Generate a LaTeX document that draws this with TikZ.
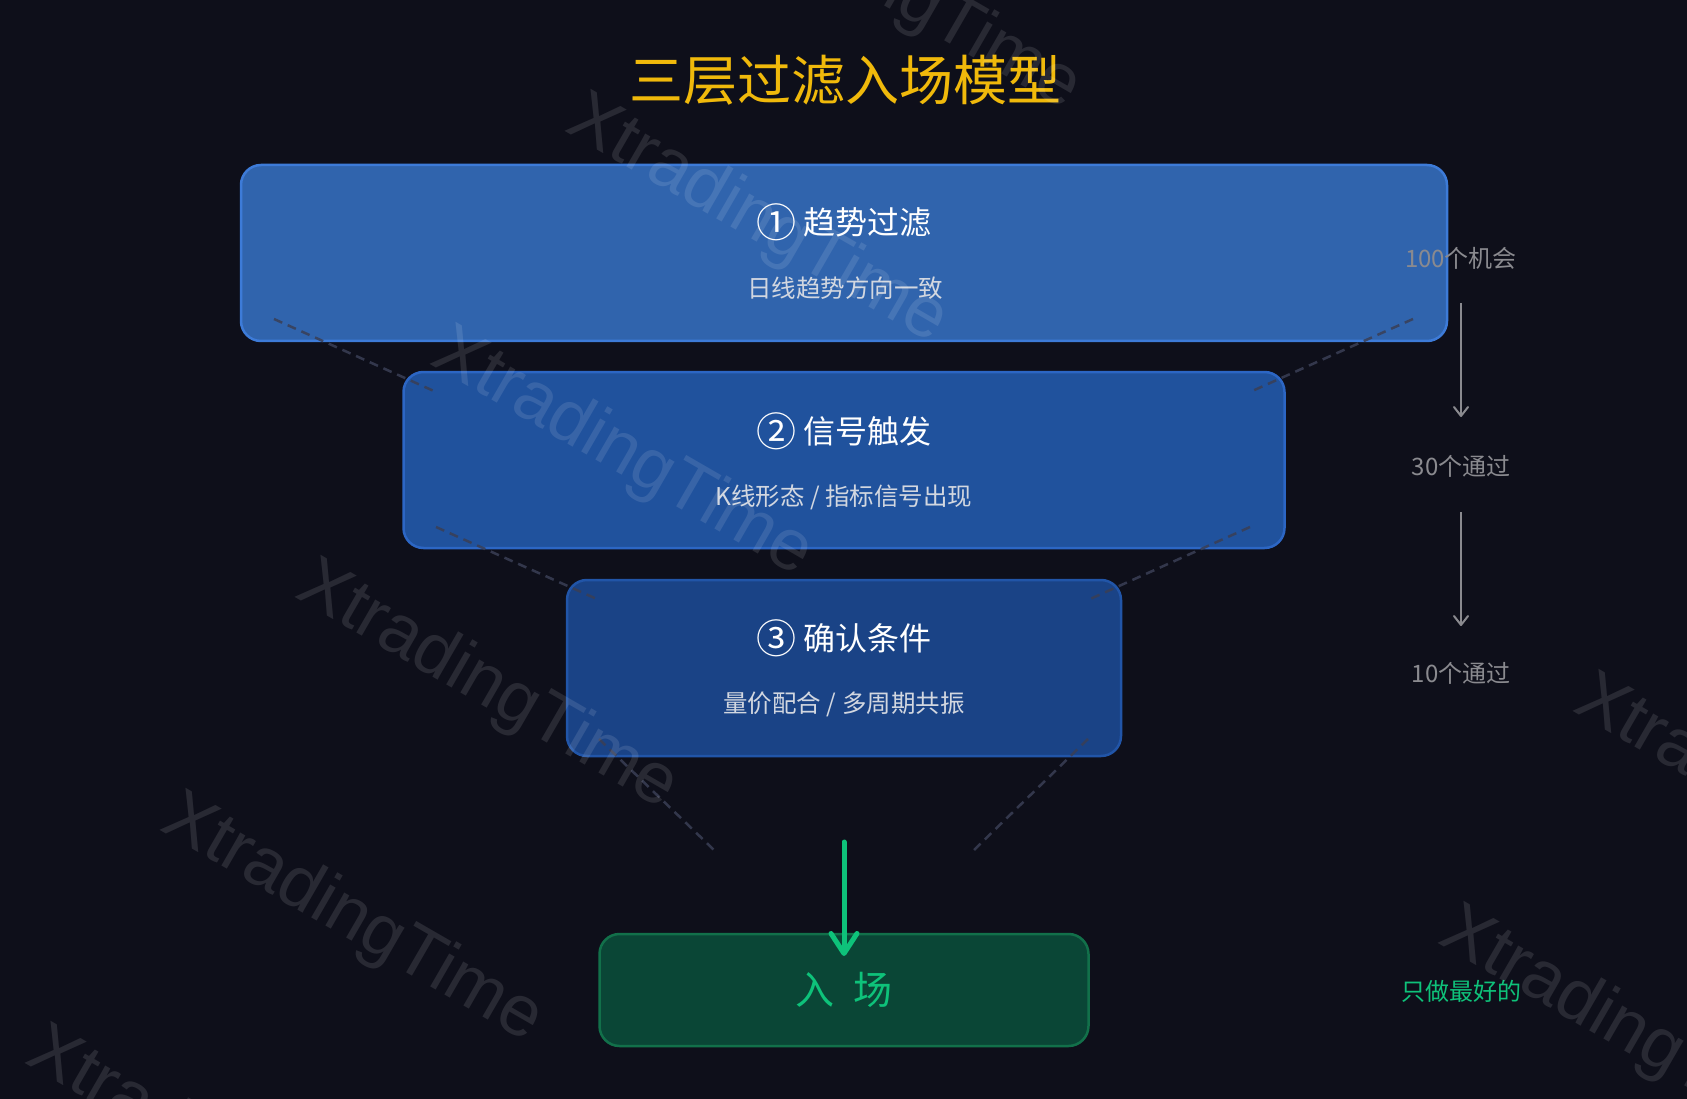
\documentclass[tikz,border=0pt]{standalone}
\usepackage{fontspec}
\setmainfont{Noto Sans CJK SC}
\newfontfamily\markfont{Liberation Sans}
\usepackage{tikz}
\usetikzlibrary{positioning,arrows.meta}

\definecolor{bgdark}{HTML}{0E0F1A}
\definecolor{titlegold}{HTML}{F0B90B}
\definecolor{layerone}{HTML}{336BB9}
\definecolor{layeroneline}{HTML}{3D7BD8}
\definecolor{layertwo}{HTML}{2258A8}
\definecolor{layertwoline}{HTML}{2C66C4}
\definecolor{layerthree}{HTML}{1B478F}
\definecolor{layerthreeline}{HTML}{2155A8}
\definecolor{entryfill}{HTML}{0A4636}
\definecolor{entryline}{HTML}{12704A}
\definecolor{accentgreen}{HTML}{0EC27A}
\definecolor{labelgray}{HTML}{8A8A8F}
\definecolor{subtext}{HTML}{D2D7E0}
\definecolor{funneldash}{HTML}{3A3F55}

\newcommand{\stepmark}[1]{\raisebox{-3pt}{\fontsize{40}{40}\selectfont #1}}

\begin{document}
\begin{tikzpicture}[x=1pt,y=-1pt,
    layer/.style={draw,line width=2.5pt,rounded corners=20pt,fill opacity=0.93,inner sep=0pt,outer sep=0pt},
    layertitle/.style={text=white,font=\fontsize{32}{32}\selectfont,inner sep=0pt},
    layersub/.style={text=subtext,font=\fontsize{24.5}{24.5}\selectfont,inner sep=0pt},
    countlabel/.style={text=labelgray,font=\fontsize{24}{24}\selectfont,inner sep=0pt,outer sep=0pt},
    funnel/.style={funneldash,opacity=0.85,line width=2.5pt,dash pattern=on 9pt off 6pt},
    countarrow/.style={labelgray,line width=2pt,-{Straight Barb[length=9pt,width=14pt,round]}},
    watermark/.style={text=white,text opacity=0.11,rotate=-30,font=\markfont\fontsize{72}{72}\selectfont,inner sep=0pt}]

    % Draw background
    \useasboundingbox (0,0) rectangle (1687,1099);
    \fill[bgdark] (0,0) rectangle (1687,1099);

    % Draw title
    \node[text=titlegold,font=\fontsize{54}{54}\selectfont] (title) at (845,80) {三层过滤入场模型};

    % Draw filter layers
    \node[layer,fill=layerone,draw=layeroneline,minimum width=1206pt,minimum height=176pt] (trend) at (844,253) {};
    \node[layer,fill=layertwo,draw=layertwoline,minimum width=881pt,minimum height=176pt] (signal) at (844,460) {};
    \node[layer,fill=layerthree,draw=layerthreeline,minimum width=554pt,minimum height=176pt] (confirm) at (844,668) {};

    % Draw funnel edges
    \draw[funnel] (274,319) -- (436,392);
    \draw[funnel] (1413,319) -- (1250,392);
    \draw[funnel] (436,527) -- (599,600);
    \draw[funnel] (1250,527) -- (1088,600);
    \draw[funnel] (599,739) -- (714,850);
    \draw[funnel] (1088,739) -- (974,850);

    \node[layertitle] (trendtitle) at (844,222) {\stepmark{①} 趋势过滤};
    \node[layersub] (trendsub) at (845,288) {日线趋势方向一致};
    \node[layertitle] (signaltitle) at (844,431) {\stepmark{②} 信号触发};
    \node[layersub] (signalsub) at (844,497) {K线形态 / 指标信号出现};
    \node[layertitle] (confirmtitle) at (844,638) {\stepmark{③} 确认条件};
    \node[layersub] (confirmsub) at (844,704) {量价配合 / 多周期共振};

    % Draw entry box
    \node[layer,fill=entryfill,draw=entryline,minimum width=489pt,minimum height=112pt,fill opacity=1] (entry) at (844,990) {};
    \node[text=accentgreen,font=\fontsize{39}{39}\selectfont,inner sep=0pt] (entrytext) at (844,990) {入\hspace{0.5em}场};
    \coordinate (funnelout) at (844,842);
    \draw[accentgreen,line width=5pt,line cap=round,-{Straight Barb[length=20pt,width=26pt,round]},shorten >=-22pt] (funnelout) -- (entry.north);

    % Draw counts on the right
    \node[countlabel] (count100) at (1461,258) {100个机会};
    \node[countlabel] (count30) at (1461,466) {30个通过};
    \node[countlabel] (count10) at (1461,673) {10个通过};
    \node[countlabel,text=accentgreen] (best) at (1461,991) {只做最好的};
    \draw[countarrow,shorten <=45pt,shorten >=49pt] (count100.center) -- (count30.center);
    \draw[countarrow,shorten <=46pt,shorten >=47pt] (count30.center) -- (count10.center);

    % Draw watermarks
    \foreach \wx/\wy [count=\i] in {890/-12,757/221,622/454,487/687,352/920,217/1153,1765/801,1630/1033}
        \node[watermark] (mark\i) at (\wx,\wy) {XtradingTime};
\end{tikzpicture}
\end{document}
